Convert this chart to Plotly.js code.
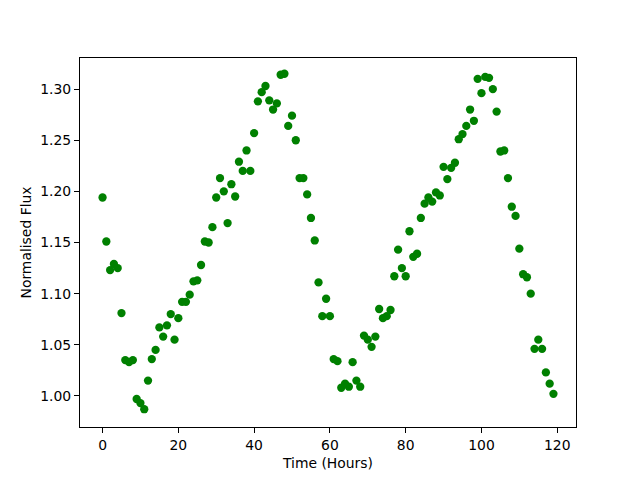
<!DOCTYPE html>
<html>
<head>
<meta charset="utf-8">
<script src="https://cdn.plot.ly/plotly-3.0.1.min.js"></script>
<style>html,body{margin:0;padding:0;background:#fff;}#chart{width:640px;height:480px;}</style>
</head>
<body>
<div id="chart"></div>
<script>
const hours = [];
for (let i = 0; i < 120; i++) hours.push(i);
const flux = [
1.194,1.151,1.123,1.129,1.125,1.081,1.035,1.033,1.035,0.997,
0.993,0.987,1.015,1.036,1.045,1.067,1.058,1.069,1.080,1.055,
1.076,1.092,1.092,1.099,1.112,1.113,1.128,1.151,1.150,1.165,
1.194,1.213,1.200,1.169,1.207,1.195,1.229,1.220,1.240,1.220,
1.257,1.288,1.297,1.303,1.289,1.280,1.286,1.314,1.315,1.264,
1.274,1.250,1.213,1.213,1.197,1.174,1.152,1.111,1.078,1.095,
1.078,1.036,1.034,1.008,1.012,1.009,1.033,1.015,1.009,1.059,
1.055,1.048,1.058,1.085,1.076,1.078,1.084,1.117,1.143,1.125,
1.117,1.161,1.136,1.139,1.174,1.188,1.194,1.190,1.199,1.196,
1.224,1.212,1.223,1.228,1.251,1.256,1.264,1.280,1.269,1.310,
1.296,1.312,1.311,1.300,1.278,1.239,1.240,1.213,1.185,1.176,
1.144,1.119,1.116,1.100,1.046,1.055,1.046,1.023,1.012,1.002
];
const xTicks = [0,20,40,60,80,100,120];
const yTicks = [1.00,1.05,1.10,1.15,1.20,1.25,1.30];

const font = {family: 'DejaVu Sans', size: 13.9, color: '#000'};
const axisCommon = {
  showgrid: false, zeroline: false,
  showline: true, linecolor: '#000', linewidth: 1, mirror: true,
  ticks: 'outside', ticklen: 5, tickwidth: 1, tickcolor: '#000',
  tickfont: font
};
Plotly.newPlot('chart', [{
  x: hours, y: flux, type: 'scatter', mode: 'markers',
  marker: {color: '#008000', size: 8.3}
}], {
  width: 640, height: 480,
  margin: {l: 80, r: 64, t: 58, b: 53},
  paper_bgcolor: '#fff', plot_bgcolor: '#fff',
  showlegend: false,
  font: font,
  xaxis: Object.assign({}, axisCommon, {
    range: [-5.95, 124.95], tickvals: xTicks, ticktext: xTicks.map(String),
    title: {text: 'Time (Hours)', font: font, standoff: 6}
  }),
  yaxis: Object.assign({}, axisCommon, {
    range: [0.9696, 1.3304], tickvals: yTicks, ticktext: yTicks.map(v => v.toFixed(2)),
    title: {text: 'Normalised Flux', font: font, standoff: 5}
  })
}, {staticPlot: true});
</script>
</body>
</html>
